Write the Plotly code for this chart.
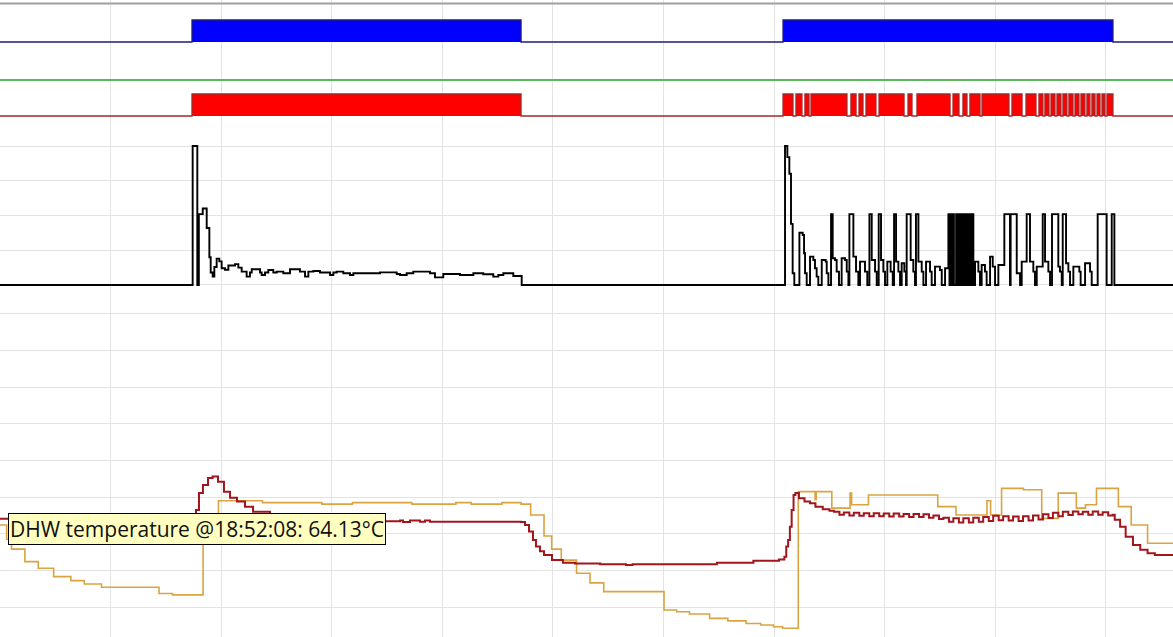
import plotly.graph_objects as go

# ---------------- data (time axis in minutes from start of view) ----------------
T_END = 106.06

# DHW demand (blue status band): on intervals
dhw_demand_start = [17.36, 70.80]
dhw_demand_end = [47.11, 100.63]

# Burner on (red status band): on intervals
burner_on_start = [17.36, 70.80, 71.97, 72.78, 73.33, 76.94, 77.67, 78.30, 79.48, 82.10,
                   82.91, 86.17, 87.07, 87.70, 88.79, 91.50, 92.77, 93.94, 94.48, 95.03,
                   95.57, 96.11, 96.65, 97.20, 97.74, 98.28, 98.73, 99.19, 99.64, 100.09]
burner_on_end = [47.11, 71.70, 72.51, 73.15, 76.58, 77.40, 78.03, 79.20, 81.74, 82.46,
                 85.90, 86.71, 87.43, 88.61, 91.23, 92.41, 93.67, 94.30, 94.85, 95.39,
                 95.93, 96.47, 97.02, 97.56, 98.10, 98.55, 99.01, 99.46, 99.91, 100.63]

# Third status (green): always off
status3_t = [0, T_END]
status3_v = [0, 0]

# Burner modulation (%)
mod_t = [0, 17.42, 17.84, 17.98, 18.33, 18.69, 18.93, 19.05, 19.23, 19.38,
         19.59, 19.83, 20.04, 20.34, 20.65, 21.25, 21.55, 21.85, 22.30, 22.60,
         22.76, 23.51, 23.66, 23.96, 24.26, 24.71, 25.02, 25.62, 26.22, 27.12,
         27.58, 27.88, 28.33, 28.93, 29.84, 30.14, 30.44, 31.04, 31.65, 31.95,
         34.36, 35.87, 36.17, 36.77, 37.37, 38.88, 39.33, 40.08, 40.39, 41.59,
         42.80, 43.70, 44.60, 45.06, 45.51, 46.41, 47.17,
         70.98, 71.19, 71.37, 71.52, 71.67, 71.82,
         72.28, 72.58, 72.70, 72.79, 72.94,
         73.24, 73.54, 73.69, 73.84, 73.99,
         74.30, 74.66, 74.75, 74.90,
         75.14, 75.29, 75.50, 75.65, 75.86,
         76.10, 76.41, 76.56, 76.71,
         76.80, 77.16, 77.40, 77.61,
         77.76, 78.21, 78.42,
         78.61, 78.82, 79.12, 79.27,
         79.45, 79.66, 79.87, 80.02,
         80.23, 80.53, 80.72,
         80.84, 81.02, 81.23, 81.38,
         81.53, 81.77, 81.92,
         81.98, 82.34, 82.58, 82.73,
         82.82, 83.04, 83.34, 83.49,
         83.73, 84.09, 84.24,
         84.54, 84.99, 85.15,
         85.45, 85.75, 85.85, 85.95, 86.05, 86.15, 86.25,
         86.45, 86.55, 86.65, 86.75, 86.85, 86.95, 87.05, 87.15,
         87.25, 87.35, 87.45, 87.55, 87.65, 87.75, 87.85, 88.01,
         88.16, 88.46, 88.61,
         88.76, 89.06, 89.21,
         89.52, 89.76, 89.97,
         90.27, 90.81, 91.32, 91.38, 91.93, 92.23,
         92.38, 92.83, 93.13, 93.43, 93.58,
         93.74, 94.28, 94.49, 94.79, 94.94,
         95.12, 95.69, 95.84, 96.00,
         96.09, 96.39, 96.60, 96.75,
         97.05, 97.59, 97.71,
         98.11, 98.56, 98.71,
         99.25, 100.06, 100.52, 100.76, T_END]
mod_v = [0, 100, 0, 51, 55, 41, 20, 9, 6, 13,
         19, 17, 12, 11, 14, 15, 12.5, 9.6, 6, 9,
         11.3, 9, 7.2, 9, 10.8, 9, 9.6, 8.4, 11.3, 9.6,
         6, 9.6, 10.1, 9, 7.2, 9, 9.6, 8.4, 7.2, 8.4,
         9.1, 7.9, 7.2, 8.4, 9.6, 8.4, 5.5, 7.9, 7.9, 7.2,
         8.4, 7.7, 6, 7.2, 8.4, 6.5, 0,
         100, 92, 80, 44, 8.4, 0,
         37.6, 36, 22.8, 8.4, 0,
         20.4, 18, 12, 6, 0,
         18, 16.8, 8.4, 0,
         51, 19.2, 18, 9.6, 0,
         19.2, 18, 9.6, 0,
         51, 20.4, 9.6, 0,
         16.8, 9.6, 0,
         51, 18, 9.6, 0,
         51, 18, 9.6, 0,
         16.8, 9.6, 0,
         51, 16.8, 9.6, 0,
         15.6, 9.6, 0,
         51, 18, 9.6, 0,
         51, 16.8, 9.6, 0,
         16.8, 9.6, 0,
         13.2, 10.8, 0,
         12, 51, 0, 51, 0, 51, 0,
         51, 0, 51, 0, 51, 0, 51, 0,
         51, 0, 51, 0, 51, 0, 51, 0,
         16.8, 9.6, 0,
         14.4, 9.6, 0,
         20.4, 13.2, 0,
         14.4, 51, 0, 51, 8.4, 0,
         16.8, 51, 16.8, 9.6, 0,
         13.2, 51, 16.8, 9.6, 0,
         51, 13.2, 9.6, 0,
         51, 15.6, 9.6, 0,
         13.2, 9.6, 0,
         15.6, 9.6, 0,
         51, 0, 51, 0, 0]

# DHW temperature (deg C)
dhw_t = [0, 4.5, 9.0, 13.0, 16.7, 17.45, 17.72, 17.99, 18.35, 18.81,
         19.22, 19.71, 20.25, 20.80, 21.43, 22.15, 22.88, 24.41, 27.12, 34.27,
         36.17, 36.44, 37.07, 37.97, 38.43, 38.88, 47.11, 47.47, 47.83, 48.19,
         48.46, 48.82, 49.19, 49.91, 50.90, 51.99, 54.26, 56.6, 57.2, 61.36,
         64.82, 68.12, 70.43, 70.92, 71.09, 71.26, 71.42, 71.58, 71.75, 71.92,
         72.24, 72.74, 73.24, 73.73, 74.39, 75.0,
         75.4, 75.9, 76.3, 76.8, 77.2, 77.7, 78.1, 78.6, 79.0, 79.5,
         79.9, 80.4, 80.8, 81.3, 81.7, 82.2, 82.6, 83.1, 83.5, 84.0,
         84.4, 84.9, 85.3, 85.8, 86.2, 86.7, 87.1, 87.6, 88.0, 88.5,
         88.9, 89.4, 89.8, 90.3, 90.7, 91.2, 91.6, 92.1, 92.5, 93.0,
         93.4, 93.9, 94.3, 94.8, 95.2, 95.7, 96.1, 96.6, 97.0, 97.5,
         97.9, 98.4, 98.8, 99.3, 99.7, 100.2, 100.6,
         100.79, 101.28, 101.78, 102.44, 103.10, 103.76, 104.42, T_END]
dhw_v = [64.1, 63.8, 63.3, 63.0, 62.6, 63.0, 66.5, 71.1, 73.3, 75.2,
         75.6, 74.2, 71.5, 69.8, 68.8, 67.4, 66.0, 64.9, 63.8, 63.4,
         63.6, 63.2, 63.6, 63.3, 63.6, 63.3, 63.2, 62.4, 60.6, 58.3,
         56.5, 55.2, 54.2, 52.8, 52.1, 51.9, 51.7, 51.5, 51.7, 51.7,
         52.1, 52.6, 53.0, 53.7, 56.5, 58.3, 61.9, 66.5, 70.6, 71.1,
         69.7, 68.8, 68.3, 67.4, 66.7, 66.3,
         66.0, 65.2, 65.8, 65.0, 65.7, 64.9, 65.6, 64.8, 65.6, 64.8,
         65.5, 64.7, 65.5, 64.7, 65.4, 64.6, 65.4, 64.6, 65.3, 64.4,
         65.0, 64.0, 64.4, 63.3, 64.2, 63.1, 64.2, 63.1, 64.4, 63.3,
         64.6, 63.5, 64.9, 63.7, 64.8, 63.6, 64.7, 63.5, 64.8, 63.6,
         65.0, 63.9, 65.3, 64.3, 65.7, 64.8, 66.0, 65.1, 66.1, 65.3,
         66.0, 65.2, 66.1, 65.2, 65.9, 65.0, 65.2,
         63.8, 61.9, 59.2, 56.9, 55.6, 54.7, 54.2, 54.2]

# Flow temperature (deg C)
flow_t = [0, 0.6, 1.04, 2.25, 3.46, 4.85, 6.41, 7.62, 9.18, 14.38,
          15.59, 18.36, 19.75, 23.73, 29.10, 31.87, 37.24, 41.22, 42.61, 45.38,
          47.11, 47.98, 49.19, 49.88, 50.75, 52.13, 53.35, 54.59, 60.04, 61.19,
          62.34, 64.16, 65.81, 67.46, 68.78, 69.94, 70.76, 72.18, 73.70, 73.80,
          75.21, 76.86, 77.00, 78.52, 84.79, 86.44, 89.24, 89.57, 90.56, 92.54,
          94.19, 95.68, 97.32, 98.15, 99.14, 101.12, 102.28, 103.76, T_END]
flow_v = [62.4, 58.5, 55.8, 52.4, 50.6, 48.3, 47.2, 46.3, 45.4, 43.7,
          43.3, 61.0, 69.0, 68.5, 68.1, 68.5, 68.1, 68.5, 68.1, 68.5,
          68.1, 65.1, 59.4, 55.8, 52.8, 49.2, 46.6, 44.2, 39.2, 38.7,
          38.1, 36.9, 36.2, 35.5, 35.1, 34.6, 34.2, 71.5, 69.3, 71.5,
          67.0, 71.1, 67.9, 70.6, 67.4, 65.1, 69.0, 65.1, 72.4, 72.0,
          64.2, 71.1, 67.0, 67.9, 72.4, 67.4, 62.4, 57.4, 57.4]

tooltip_text = "DHW temperature @18:52:08: 64.13°C"

assert len(mod_t) == len(mod_v), (len(mod_t), len(mod_v))
assert len(dhw_t) == len(dhw_v), (len(dhw_t), len(dhw_v))
assert len(flow_t) == len(flow_v), (len(flow_t), len(flow_v))


def band_steps(starts, ends):
    xs, ys = [0.0], [0]
    for s, e in zip(starts, ends):
        xs += [s, e]
        ys += [1, 0]
    xs.append(T_END)
    ys.append(0)
    return xs, ys


# ---------------- layout helpers ----------------
H = 637.0
GRID = "#e3e3e3"


def dom(top_px, bottom_px):
    return [1 - bottom_px / H, 1 - top_px / H]


fig = go.Figure()

# full-height helper subplot (carries the vertical grid)
fig.add_trace(go.Scatter(x=[], y=[], xaxis="x", yaxis="y", showlegend=False, hoverinfo="skip"))

# temperatures
fig.add_trace(go.Scatter(x=flow_t, y=flow_v, xaxis="x", yaxis="y2", mode="lines",
                         line=dict(color="#d9a441", width=1.6, shape="hv"), hoverinfo="skip"))
fig.add_trace(go.Scatter(x=dhw_t, y=dhw_v, xaxis="x", yaxis="y2", mode="lines",
                         line=dict(color="#a0161c", width=2, shape="hv"), hoverinfo="skip"))

# modulation
fig.add_trace(go.Scatter(x=mod_t, y=mod_v, xaxis="x", yaxis="y3", mode="lines",
                         line=dict(color="#000000", width=1.9, shape="hv"), hoverinfo="skip"))

# burner on band
bx, by = band_steps(burner_on_start, burner_on_end)
fig.add_trace(go.Scatter(x=bx, y=by, xaxis="x", yaxis="y4", mode="lines", fill="tozeroy",
                         fillcolor="#ff0000", line=dict(color="#a3282a", width=1.3, shape="hv"),
                         hoverinfo="skip"))

# green status line
fig.add_trace(go.Scatter(x=status3_t, y=status3_v, xaxis="x", yaxis="y5", mode="lines",
                         line=dict(color="#5cb85c", width=2), hoverinfo="skip"))

# DHW demand band
dx, dy = band_steps(dhw_demand_start, dhw_demand_end)
fig.add_trace(go.Scatter(x=dx, y=dy, xaxis="x", yaxis="y6", mode="lines", fill="tozeroy",
                         fillcolor="#0000ff", line=dict(color="#1c1c78", width=1.3, shape="hv"),
                         hoverinfo="skip"))

hidden = dict(showgrid=False, showticklabels=False, ticks="", zeroline=False, showline=False,
              fixedrange=True)

fig.update_layout(
    width=1173, height=637, autosize=False,
    margin=dict(l=0, r=0, t=0, b=0, pad=0),
    paper_bgcolor="white", plot_bgcolor="white",
    showlegend=False, hovermode=False,
    xaxis=dict(range=[0, T_END], showgrid=True, gridcolor=GRID, gridwidth=1.2, dtick=10, tick0=0,
               showticklabels=False, ticks="", zeroline=False, showline=False, anchor="y",
               fixedrange=True),
    yaxis=dict(domain=[0, 1], range=[0, 1], anchor="x", **hidden),
    yaxis2=dict(domain=dom(297, 637), range=[31.81, 124.64], anchor="x", showgrid=True,
                gridcolor=GRID, gridwidth=1.2, dtick=10, tick0=0, showticklabels=False, ticks="",
                zeroline=False, showline=False, fixedrange=True),
    yaxis3=dict(domain=dom(141, 292), range=[-5.04, 103.6], anchor="x", showgrid=True,
                gridcolor=GRID, gridwidth=1.2, dtick=25, tick0=0, showticklabels=False, ticks="",
                zeroline=False, showline=False, fixedrange=True),
    yaxis4=dict(domain=dom(90, 124), range=[-0.364, 1.182], anchor="x", **hidden),
    yaxis5=dict(domain=dom(71, 89), range=[-1, 1], anchor="x", **hidden),
    yaxis6=dict(domain=dom(12, 50), range=[-0.364, 1.364], anchor="x", **hidden),
    shapes=[dict(type="line", xref="paper", yref="paper", x0=0, x1=1,
                 y0=1 - 3.5 / H, y1=1 - 3.5 / H, line=dict(color="#a0a0a0", width=2))],
    annotations=[dict(text=tooltip_text, xref="paper", yref="paper",
                      x=8 / 1173, y=1 - 513 / H, xanchor="left", yanchor="top",
                      showarrow=False, align="left",
                      font=dict(family="Open Sans, Noto Sans, sans-serif", size=21, color="#111111"),
                      bgcolor="#ffffc0", bordercolor="#000000", borderwidth=1, borderpad=1)],
)

fig.write_html("out.html", config={"displayModeBar": False},
               post_script="document.body.style.margin='0';document.body.style.overflow='hidden';")
